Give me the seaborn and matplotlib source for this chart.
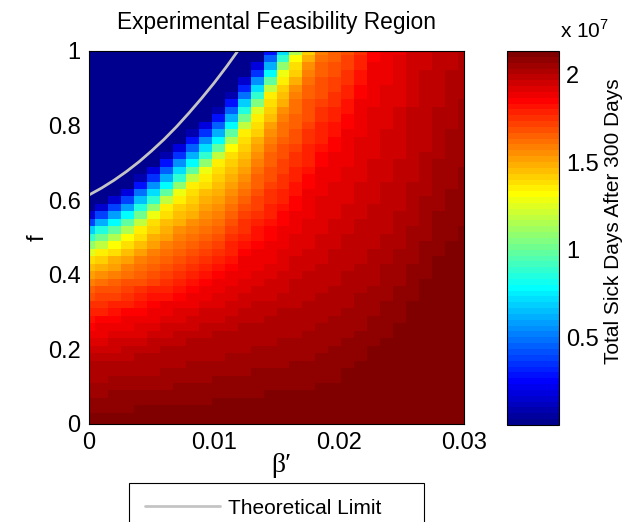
import numpy as np
import pandas as pd
import matplotlib
matplotlib.use('Agg')
import matplotlib.pyplot as plt
from matplotlib.colors import ListedColormap
import seaborn as sns

# scan grid: beta' across, f from top (1) to bottom (0)
beta_prime = [0.0, 0.001034, 0.002069, 0.003103, 0.004138, 0.005172, 0.006207, 0.007241,
              0.008276, 0.009310, 0.010345, 0.011379, 0.012414, 0.013448, 0.014483, 0.015517,
              0.016552, 0.017586, 0.018621, 0.019655, 0.020690, 0.021724, 0.022759, 0.023793,
              0.024828, 0.025862, 0.026897, 0.027931, 0.028966, 0.030]
f_values = [1.00, 0.98, 0.96, 0.94, 0.92, 0.90, 0.88, 0.86, 0.84, 0.82,
            0.80, 0.78, 0.76, 0.74, 0.72, 0.70, 0.68, 0.66, 0.64, 0.62,
            0.60, 0.58, 0.56, 0.54, 0.52, 0.50, 0.48, 0.46, 0.44, 0.42,
            0.40, 0.38, 0.36, 0.34, 0.32, 0.30, 0.28, 0.26, 0.24, 0.22,
            0.20, 0.18, 0.16, 0.14, 0.12, 0.10, 0.08, 0.06, 0.04, 0.02,
            0.00]

# total sick days after 300 days (millions), one list per beta' column, f = 1 -> 0
sick_days_millions = [
    [0.03, 0.03, 0.03, 0.03, 0.03, 0.03, 0.03, 0.03, 0.03, 0.03,
     0.03, 0.03, 0.03, 0.03, 0.03, 0.03, 0.03, 0.03, 0.03, 0.03,
     0.03, 0.03, 1.5, 4.0, 6.8, 9.0, 11.0, 12.6, 13.7, 14.5,
     15.2, 16.0, 16.5, 17.0, 17.4, 17.9, 18.3, 18.6, 18.9, 19.2,
     19.5, 19.7, 20.0, 20.2, 20.3, 20.5, 20.6, 20.7, 20.9, 21.0,
     21.1],
    [0.03, 0.03, 0.03, 0.03, 0.03, 0.03, 0.03, 0.03, 0.03, 0.03,
     0.03, 0.03, 0.03, 0.03, 0.03, 0.03, 0.03, 0.03, 0.03, 0.03,
     0.03, 1.6, 3.9, 6.3, 8.4, 10.2, 12.0, 13.5, 14.2, 14.9,
     15.6, 16.2, 16.7, 17.1, 17.5, 17.9, 18.4, 18.8, 19.0, 19.3,
     19.5, 19.8, 20.0, 20.2, 20.3, 20.5, 20.6, 20.8, 20.9, 21.0,
     21.1],
    [0.03, 0.03, 0.03, 0.03, 0.03, 0.03, 0.03, 0.03, 0.03, 0.03,
     0.03, 0.03, 0.03, 0.03, 0.03, 0.03, 0.03, 0.03, 0.03, 0.03,
     1.5, 3.7, 5.8, 8.0, 9.8, 11.5, 13.3, 14.0, 14.7, 15.3,
     16.0, 16.4, 16.9, 17.3, 17.7, 18.2, 18.6, 18.9, 19.1, 19.4,
     19.6, 19.9, 20.1, 20.2, 20.4, 20.5, 20.7, 20.8, 20.9, 21.0,
     21.1],
    [0.03, 0.03, 0.03, 0.03, 0.03, 0.03, 0.03, 0.03, 0.03, 0.03,
     0.03, 0.03, 0.03, 0.03, 0.03, 0.03, 0.03, 0.03, 0.03, 2.0,
     4.0, 6.0, 8.0, 9.8, 11.5, 13.3, 13.9, 14.6, 15.2, 15.8,
     16.3, 16.7, 17.1, 17.5, 18.0, 18.4, 18.8, 19.0, 19.2, 19.5,
     19.7, 19.9, 20.1, 20.2, 20.4, 20.5, 20.7, 20.8, 20.9, 21.0,
     21.1],
    [0.03, 0.03, 0.03, 0.03, 0.03, 0.03, 0.03, 0.03, 0.03, 0.03,
     0.03, 0.03, 0.03, 0.03, 0.03, 0.03, 0.03, 1.0, 2.9, 4.7,
     6.6, 8.4, 10.2, 12.0, 13.4, 14.0, 14.6, 15.2, 15.7, 16.2,
     16.6, 17.0, 17.4, 17.8, 18.2, 18.6, 18.9, 19.1, 19.3, 19.6,
     19.8, 20.0, 20.1, 20.3, 20.4, 20.6, 20.7, 20.8, 21.0, 21.0,
     21.1],
    [0.03, 0.03, 0.03, 0.03, 0.03, 0.03, 0.03, 0.03, 0.03, 0.03,
     0.03, 0.03, 0.03, 0.03, 0.03, 0.35, 1.9, 3.6, 5.4, 7.1,
     9.0, 10.9, 12.8, 13.7, 14.2, 14.7, 15.2, 15.7, 16.2, 16.6,
     16.9, 17.3, 17.7, 18.1, 18.4, 18.8, 19.0, 19.2, 19.4, 19.7,
     19.9, 20.1, 20.2, 20.3, 20.5, 20.6, 20.7, 20.8, 21.0, 21.0,
     21.1],
    [0.03, 0.03, 0.03, 0.03, 0.03, 0.03, 0.03, 0.03, 0.03, 0.03,
     0.03, 0.03, 0.03, 0.03, 1.0, 2.75, 4.5, 6.25, 8.0, 9.9,
     11.9, 13.4, 13.9, 14.4, 14.9, 15.3, 15.8, 16.2, 16.5, 16.9,
     17.2, 17.6, 17.9, 18.3, 18.7, 18.9, 19.1, 19.35, 19.6, 19.8,
     20.0, 20.1, 20.25, 20.4, 20.5, 20.6, 20.75, 20.9, 21.0, 21.05,
     21.1],
    [0.03, 0.03, 0.03, 0.03, 0.03, 0.03, 0.03, 0.03, 0.03, 0.03,
     0.03, 0.03, 0.35, 1.9, 3.6, 5.4, 7.1, 9.0, 10.9, 12.8,
     13.6, 14.1, 14.5, 14.9, 15.35, 15.8, 16.2, 16.5, 16.9, 17.2,
     17.6, 17.9, 18.3, 18.6, 18.86, 19.06, 19.27, 19.5, 19.7, 19.9,
     20.06, 20.18, 20.3, 20.42, 20.55, 20.67, 20.8, 20.9, 21.01, 21.06,
     21.12],
    [0.03, 0.03, 0.03, 0.03, 0.03, 0.03, 0.03, 0.03, 0.03, 0.03,
     0.03, 1.0, 2.75, 4.5, 6.25, 8.0, 9.9, 11.9, 13.4, 13.8,
     14.2, 14.6, 15.0, 15.4, 15.8, 16.17, 16.5, 16.84, 17.2, 17.5,
     17.84, 18.2, 18.5, 18.8, 19.0, 19.2, 19.4, 19.6, 19.8, 20.0,
     20.12, 20.24, 20.35, 20.47, 20.6, 20.7, 20.82, 20.94, 21.02, 21.07,
     21.13],
    [0.03, 0.03, 0.03, 0.03, 0.03, 0.03, 0.03, 0.03, 0.03, 0.35,
     1.9, 3.6, 5.4, 7.1, 9.0, 10.9, 12.8, 13.6, 14.0, 14.35,
     14.75, 15.1, 15.5, 15.9, 16.25, 16.6, 16.9, 17.2, 17.55, 17.9,
     18.2, 18.5, 18.8, 18.98, 19.16, 19.35, 19.5, 19.7, 19.9, 20.05,
     20.17, 20.28, 20.4, 20.5, 20.6, 20.74, 20.86, 20.97, 21.03, 21.08,
     21.14],
    [0.03, 0.03, 0.03, 0.03, 0.03, 0.03, 0.03, 0.03, 1.0, 2.75,
     4.5, 6.25, 8.0, 9.9, 11.9, 13.4, 13.77, 14.1, 14.5, 14.9,
     15.25, 15.6, 16.0, 16.3, 16.6, 16.95, 17.3, 17.6, 17.9, 18.2,
     18.54, 18.79, 18.96, 19.13, 19.3, 19.5, 19.65, 19.83, 20.0, 20.11,
     20.22, 20.33, 20.44, 20.55, 20.67, 20.78, 20.89, 21.0, 21.05, 21.1,
     21.15],
    [0.03, 0.03, 0.03, 0.03, 0.03, 0.03, 1.0, 2.75, 4.5, 6.25,
     8.0, 9.8, 11.5, 13.3, 13.7, 14.05, 14.4, 14.8, 15.2, 15.5,
     15.9, 16.2, 16.5, 16.8, 17.1, 17.4, 17.7, 18.0, 18.3, 18.6,
     18.82, 18.98, 19.13, 19.3, 19.45, 19.6, 19.76, 19.92, 20.05, 20.16,
     20.27, 20.38, 20.49, 20.6, 20.7, 20.8, 20.93, 21.01, 21.06, 21.11,
     21.16],
    [0.03, 0.03, 0.03, 0.03, 1.4, 3.2, 4.9, 6.7, 8.4, 10.2,
     12.0, 13.4, 13.77, 14.1, 14.5, 14.9, 15.25, 15.6, 16.0, 16.27,
     16.54, 16.8, 17.1, 17.35, 17.6, 17.9, 18.16, 18.43, 18.7, 18.84,
     18.99, 19.13, 19.28, 19.42, 19.57, 19.71, 19.86, 20.0, 20.1, 20.2,
     20.3, 20.42, 20.53, 20.63, 20.74, 20.84, 20.95, 21.02, 21.07, 21.12,
     21.17],
    [0.03, 0.35, 1.9, 3.6, 5.4, 7.1, 8.9, 10.65, 12.4, 13.5,
     13.9, 14.3, 14.7, 15.1, 15.5, 15.9, 16.18, 16.4, 16.65, 16.9,
     17.1, 17.3, 17.6, 17.8, 18.03, 18.3, 18.5, 18.73, 18.87, 19.0,
     19.13, 19.27, 19.4, 19.53, 19.67, 19.8, 19.93, 20.05, 20.15, 20.26,
     20.36, 20.46, 20.56, 20.67, 20.76, 20.87, 20.97, 21.03, 21.08, 21.13,
     21.18],
    [2.75, 4.5, 6.25, 8.0, 9.9, 11.9, 13.4, 13.8, 14.2, 14.65,
     15.07, 15.5, 15.9, 16.15, 16.36, 16.56, 16.77, 16.97, 17.2, 17.4,
     17.6, 17.8, 18.0, 18.2, 18.4, 18.6, 18.76, 18.89, 19.0, 19.14,
     19.27, 19.4, 19.5, 19.65, 19.77, 19.9, 20.02, 20.12, 20.22, 20.32,
     20.41, 20.5, 20.6, 20.7, 20.8, 20.9, 21.0, 21.05, 21.1, 21.14,
     21.19],
    [7.1, 9.0, 10.9, 12.8, 13.64, 14.1, 14.5, 15.0, 15.44, 15.9,
     16.14, 16.33, 16.5, 16.7, 16.9, 17.1, 17.26, 17.45, 17.64, 17.8,
     18.0, 18.2, 18.4, 18.56, 18.73, 18.84, 18.96, 19.07, 19.2, 19.3,
     19.4, 19.54, 19.65, 19.77, 19.88, 20.0, 20.09, 20.19, 20.28, 20.37,
     20.47, 20.56, 20.65, 20.74, 20.84, 20.93, 21.01, 21.06, 21.1, 21.15,
     21.2],
    [11.5, 13.3, 13.8, 14.3, 14.9, 15.4, 15.9, 16.13, 16.3, 16.5,
     16.67, 16.85, 17.0, 17.2, 17.4, 17.55, 17.73, 17.9, 18.08, 18.26,
     18.43, 18.6, 18.75, 18.85, 18.95, 19.06, 19.16, 19.26, 19.36, 19.47,
     19.57, 19.68, 19.78, 19.88, 19.97, 20.07, 20.16, 20.24, 20.33, 20.42,
     20.5, 20.6, 20.7, 20.78, 20.87, 20.96, 21.02, 21.07, 21.12, 21.16,
     21.21],
    [14.2, 14.8, 15.4, 16.0, 16.17, 16.34, 16.5, 16.68, 16.85, 17.0,
     17.2, 17.35, 17.5, 17.7, 17.85, 18.0, 18.2, 18.36, 18.53, 18.7,
     18.79, 18.88, 18.97, 19.06, 19.15, 19.24, 19.33, 19.42, 19.5, 19.6,
     19.69, 19.78, 19.87, 19.96, 20.04, 20.13, 20.21, 20.3, 20.38, 20.46,
     20.55, 20.64, 20.72, 20.8, 20.89, 20.98, 21.03, 21.08, 21.13, 21.17,
     21.22],
    [16.0, 16.17, 16.34, 16.5, 16.68, 16.85, 17.0, 17.2, 17.35, 17.5,
     17.7, 17.85, 18.0, 18.2, 18.36, 18.53, 18.7, 18.78, 18.86, 18.94,
     19.02, 19.1, 19.17, 19.25, 19.33, 19.4, 19.49, 19.57, 19.65, 19.72,
     19.8, 19.88, 19.96, 20.04, 20.12, 20.2, 20.28, 20.36, 20.44, 20.52,
     20.6, 20.68, 20.76, 20.84, 20.92, 21.0, 21.05, 21.1, 21.14, 21.19,
     21.23],
    [16.5, 16.66, 16.83, 17.0, 17.16, 17.33, 17.5, 17.66, 17.83, 18.0,
     18.16, 18.33, 18.5, 18.66, 18.75, 18.82, 18.9, 18.97, 19.04, 19.1,
     19.18, 19.25, 19.32, 19.4, 19.46, 19.54, 19.6, 19.68, 19.75, 19.82,
     19.9, 19.96, 20.04, 20.12, 20.2, 20.27, 20.35, 20.43, 20.5, 20.58,
     20.67, 20.75, 20.84, 20.9, 20.97, 21.02, 21.07, 21.11, 21.15, 21.2,
     21.24],
    [17.0, 17.15, 17.3, 17.47, 17.64, 17.8, 17.96, 18.13, 18.3, 18.46,
     18.62, 18.73, 18.8, 18.87, 18.93, 19.0, 19.07, 19.13, 19.2, 19.27,
     19.33, 19.4, 19.47, 19.53, 19.6, 19.67, 19.73, 19.8, 19.87, 19.93,
     20.0, 20.08, 20.15, 20.23, 20.3, 20.38, 20.46, 20.54, 20.6, 20.7,
     20.77, 20.85, 20.92, 21.0, 21.04, 21.07, 21.1, 21.14, 21.18, 21.21,
     21.25],
    [17.6, 17.8, 17.96, 18.13, 18.3, 18.45, 18.62, 18.73, 18.79, 18.85,
     18.91, 18.97, 19.03, 19.09, 19.15, 19.21, 19.27, 19.33, 19.39, 19.45,
     19.5, 19.57, 19.63, 19.69, 19.75, 19.8, 19.87, 19.93, 19.99, 20.06,
     20.13, 20.2, 20.28, 20.36, 20.43, 20.5, 20.58, 20.66, 20.74, 20.8,
     20.9, 20.96, 21.02, 21.06, 21.09, 21.12, 21.15, 21.18, 21.2, 21.23,
     21.26],
    [18.4, 18.54, 18.7, 18.75, 18.8, 18.86, 18.91, 18.97, 19.02, 19.07,
     19.12, 19.18, 19.23, 19.28, 19.33, 19.4, 19.44, 19.5, 19.55, 19.6,
     19.65, 19.7, 19.76, 19.81, 19.87, 19.92, 19.97, 20.04, 20.1, 20.18,
     20.26, 20.33, 20.4, 20.48, 20.55, 20.63, 20.7, 20.78, 20.85, 20.93,
     21.0, 21.03, 21.06, 21.09, 21.12, 21.14, 21.17, 21.2, 21.22, 21.25,
     21.27],
    [18.8, 18.85, 18.9, 18.95, 19.0, 19.05, 19.1, 19.15, 19.2, 19.25,
     19.3, 19.35, 19.4, 19.45, 19.5, 19.55, 19.6, 19.65, 19.7, 19.75,
     19.8, 19.84, 19.89, 19.94, 19.99, 20.05, 20.13, 20.2, 20.27, 20.34,
     20.4, 20.48, 20.55, 20.63, 20.7, 20.77, 20.84, 20.9, 20.98, 21.03,
     21.05, 21.08, 21.1, 21.13, 21.15, 21.18, 21.2, 21.22, 21.24, 21.26,
     21.28],
    [19.0, 19.04, 19.08, 19.13, 19.18, 19.23, 19.27, 19.32, 19.37, 19.42,
     19.46, 19.51, 19.56, 19.6, 19.65, 19.7, 19.75, 19.8, 19.84, 19.89,
     19.94, 19.99, 20.05, 20.11, 20.18, 20.25, 20.3, 20.38, 20.44, 20.5,
     20.57, 20.64, 20.7, 20.77, 20.84, 20.9, 20.97, 21.02, 21.05, 21.07,
     21.1, 21.12, 21.14, 21.16, 21.18, 21.2, 21.22, 21.24, 21.25, 21.27,
     21.29],
    [19.4, 19.43, 19.47, 19.5, 19.53, 19.57, 19.6, 19.63, 19.67, 19.7,
     19.73, 19.77, 19.8, 19.83, 19.87, 19.9, 19.93, 19.97, 20.0, 20.06,
     20.13, 20.19, 20.25, 20.31, 20.38, 20.44, 20.5, 20.56, 20.63, 20.69,
     20.75, 20.81, 20.88, 20.94, 21.0, 21.02, 21.04, 21.06, 21.08, 21.1,
     21.12, 21.14, 21.16, 21.17, 21.19, 21.21, 21.23, 21.25, 21.26, 21.28,
     21.3],
    [19.6, 19.63, 19.66, 19.69, 19.72, 19.75, 19.78, 19.81, 19.84, 19.87,
     19.9, 19.93, 19.96, 19.99, 20.03, 20.09, 20.14, 20.2, 20.26, 20.31,
     20.37, 20.43, 20.49, 20.54, 20.6, 20.66, 20.71, 20.77, 20.83, 20.89,
     20.94, 21.0, 21.02, 21.04, 21.05, 21.07, 21.09, 21.11, 21.12, 21.14,
     21.16, 21.17, 21.19, 21.21, 21.22, 21.24, 21.26, 21.27, 21.28, 21.3,
     21.31],
    [19.8, 19.83, 19.85, 19.88, 19.9, 19.93, 19.95, 19.98, 20.0, 20.05,
     20.1, 20.15, 20.2, 20.25, 20.3, 20.35, 20.4, 20.45, 20.5, 20.55,
     20.6, 20.65, 20.7, 20.75, 20.8, 20.85, 20.9, 20.95, 21.0, 21.02,
     21.04, 21.05, 21.07, 21.09, 21.1, 21.12, 21.13, 21.15, 21.17, 21.18,
     21.2, 21.21, 21.23, 21.24, 21.26, 21.27, 21.29, 21.3, 21.3, 21.31,
     21.32],
    [19.95, 19.97, 19.99, 20.02, 20.06, 20.1, 20.15, 20.19, 20.23, 20.28,
     20.32, 20.36, 20.4, 20.45, 20.49, 20.53, 20.57, 20.62, 20.66, 20.7,
     20.74, 20.79, 20.83, 20.87, 20.91, 20.96, 21.0, 21.02, 21.04, 21.05,
     21.07, 21.08, 21.1, 21.11, 21.13, 21.14, 21.16, 21.17, 21.19, 21.2,
     21.22, 21.23, 21.25, 21.26, 21.27, 21.29, 21.3, 21.31, 21.32, 21.32,
     21.33],
    [20.1, 20.13, 20.17, 20.21, 20.25, 20.28, 20.32, 20.36, 20.4, 20.44,
     20.47, 20.51, 20.55, 20.59, 20.62, 20.66, 20.7, 20.74, 20.77, 20.81,
     20.85, 20.89, 20.92, 20.96, 21.0, 21.02, 21.03, 21.05, 21.06, 21.08,
     21.09, 21.11, 21.12, 21.14, 21.15, 21.17, 21.18, 21.2, 21.21, 21.23,
     21.24, 21.25, 21.26, 21.27, 21.28, 21.29, 21.3, 21.31, 21.32, 21.33,
     21.33],
]

# theoretical limit curve (beta', f)
limit_beta = [0.0, 0.001, 0.002, 0.003, 0.004, 0.005, 0.006, 0.007, 0.008, 0.009,
              0.010, 0.011, 0.0119]
limit_f = [0.614, 0.6325, 0.6535, 0.677, 0.703, 0.732, 0.763, 0.797, 0.834, 0.873,
           0.914, 0.958, 1.0]

x_ticks = [0, 0.01, 0.02, 0.03]
x_tick_labels = ['0', '0.01', '0.02', '0.03']
y_ticks = [0, 0.2, 0.4, 0.6, 0.8, 1]
y_tick_labels = ['0', '0.2', '0.4', '0.6', '0.8', '1']
cbar_ticks = [0.5e7, 1e7, 1.5e7, 2e7]
cbar_tick_labels = ['0.5', '1', '1.5', '2']


def matlab_jet(m=64):
    # same construction as MATLAB's jet(m)
    n = m // 4
    u = np.concatenate([np.arange(1, n + 1) / n, np.ones(n - 1), np.arange(n, 0, -1) / n])
    g = np.arange(len(u)) + n // 2
    r = g + n
    b = g - n
    cols = np.zeros((m, 3))
    cols[r[r < m], 0] = u[r < m]
    cols[g[g < m], 1] = u[g < m]
    cols[b[b >= 0], 2] = u[b >= 0]
    return ListedColormap(cols)


sns.set_theme(style='white')
plt.rcParams['font.family'] = ['Liberation Sans', 'DejaVu Sans']
plt.rcParams['mathtext.fontset'] = 'custom'
plt.rcParams['mathtext.rm'] = 'Liberation Sans'
plt.rcParams['text.color'] = 'black'
plt.rcParams['axes.labelcolor'] = 'black'
plt.rcParams['axes.titlecolor'] = 'black'

for col in sick_days_millions:
    assert len(col) == len(f_values), len(col)

df = pd.DataFrame(np.array(sick_days_millions).T * 1e6, index=f_values, columns=beta_prime)

d_beta = (beta_prime[-1] - beta_prime[0]) / (len(beta_prime) - 1)
d_f = (f_values[0] - f_values[-1]) / (len(f_values) - 1)


def to_x(b):
    return (np.asarray(b) - beta_prime[0]) / d_beta + 0.5


def to_y(f):
    return (f_values[0] - np.asarray(f)) / d_f + 0.5


fig = plt.figure(figsize=(6.28, 5.22), dpi=100)
ax = fig.add_axes([89 / 628, 98 / 522, 375 / 628, 373 / 522])
cax = fig.add_axes([507 / 628, 97 / 522, 52 / 628, 374 / 522])

sns.heatmap(df, ax=ax, cbar_ax=cax, cmap=matlab_jet(), xticklabels=False, yticklabels=False,
            cbar_kws={'ticks': cbar_ticks})

line, = ax.plot(to_x(limit_beta), to_y(limit_f), color='#c4c4c4', lw=2.0,
                solid_joinstyle='round', label='Theoretical Limit')

ax.set_xlim(to_x(0), to_x(0.03))
ax.set_ylim(to_y(0), to_y(1))
ax.set_xticks(to_x(x_ticks))
ax.set_xticklabels(x_tick_labels)
ax.set_yticks(to_y(y_ticks))
ax.set_yticklabels(y_tick_labels, rotation=0)
ax.tick_params(direction='in', length=3, width=0.6, top=True, right=True,
               labelsize=17, pad=6, colors='black')
for sp in ax.spines.values():
    sp.set_visible(True)
    sp.set_linewidth(0.8)
    sp.set_color('black')

ax.set_title('Experimental Feasibility Region', fontsize=16.4, pad=16)
ax.set_xlabel('β′', fontsize=20, family=['Liberation Serif', 'DejaVu Serif'], va='center')
ax.xaxis.set_label_coords(0.513, -0.11)
ax.set_ylabel('f', fontsize=17, va='center')
ax.yaxis.set_label_coords(-0.136, 0.5)

cb = ax.collections[0].colorbar
cb.set_ticks(cbar_ticks)
cb.set_ticklabels(cbar_tick_labels)
cb.outline.set_visible(True)
cb.outline.set_linewidth(0.8)
cb.outline.set_edgecolor('black')
cax.tick_params(direction='in', length=3, width=0.6, left=True, right=True,
                labelsize=17, pad=5, colors='black')
cb.set_label('Total Sick Days After 300 Days', fontsize=15, va='center')
cax.yaxis.set_label_coords(2.04, 0.544)
fig.text(560 / 628, 1 - 38 / 522, r'x 10$^{7}$', fontsize=15, ha='left', va='baseline')

leg = fig.legend(handles=[line], labels=['Theoretical Limit'], loc='upper left',
                 bbox_to_anchor=(129 / 628, 1 - 483 / 522, 295 / 628, 0), mode='expand',
                 borderaxespad=0, fontsize=15, frameon=True, fancybox=False, edgecolor='black',
                 framealpha=1, handlelength=3.6, handletextpad=0.4, borderpad=0.75)
leg.get_frame().set_linewidth(0.8)

fig.savefig('out.png', dpi=100)
